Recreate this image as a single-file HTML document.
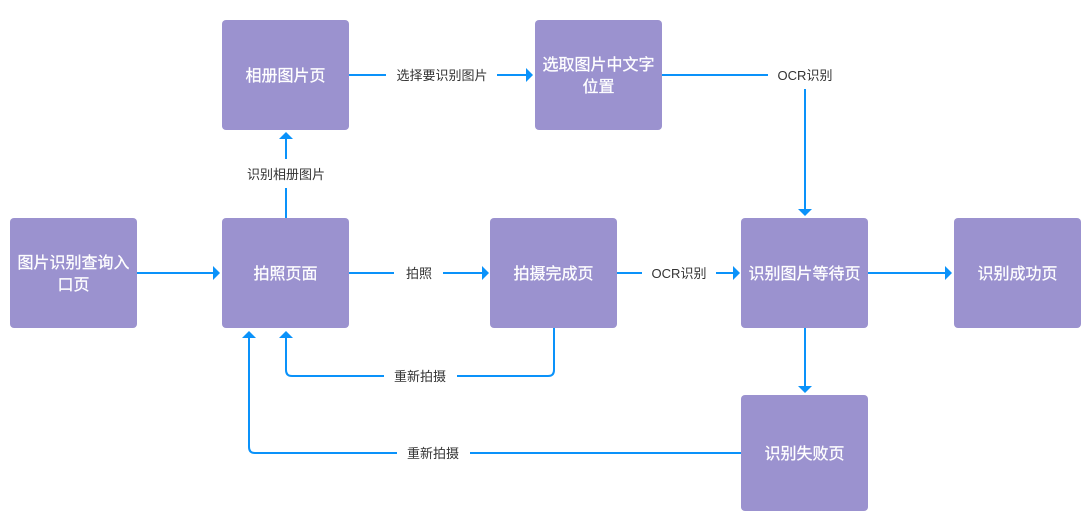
<!DOCTYPE html>
<html lang="zh">
<head>
<meta charset="utf-8">
<title>图片识别流程</title>
<style>
html,body{margin:0;padding:0;background:#fff;}
body{width:1090px;height:524px;overflow:hidden;position:relative;font-family:"Liberation Sans","Noto Sans CJK SC",sans-serif;}
svg{position:absolute;left:0;top:0;}
.n{position:absolute;width:127px;background:#9b92cf;border-radius:4px;color:#fff;font-size:16px;line-height:22px;text-align:center;display:flex;align-items:center;justify-content:center;box-sizing:border-box;padding:4px 6px 0;-webkit-text-stroke:0.25px #fff;}
.l{position:absolute;font-size:13px;line-height:16px;color:#333;white-space:nowrap;transform:translateX(-50%);}
</style>
</head>
<body>
<svg width="1090" height="524" viewBox="0 0 1090 524">
<g fill="none" stroke="#0a92fa" stroke-width="2">
<path d="M137 273H214"/>
<path d="M349 273H394"/>
<path d="M443 273H482"/>
<path d="M617 273H642"/>
<path d="M716 273H733"/>
<path d="M868 273H946"/>
<path d="M286 218V188"/>
<path d="M286 159V138"/>
<path d="M349 75H386"/>
<path d="M497 75H527"/>
<path d="M662 75H768"/>
<path d="M805 89V212"/>
<path d="M805 328V388"/>
<path d="M554 328V370Q554 376 548 376H457"/>
<path d="M384 376H292Q286 376 286 370V336"/>
<path d="M741 453H470"/>
<path d="M397 453H255Q249 453 249 447V336"/>
</g>
<g fill="#0a92fa">
<path d="M213 266L220 273L213 280Z"/>
<path d="M482 266L489 273L482 280Z"/>
<path d="M733 266L740 273L733 280Z"/>
<path d="M945 266L952 273L945 280Z"/>
<path d="M526 68L533 75L526 82Z"/>
<path d="M279 139L286 132L293 139Z"/>
<path d="M279 338L286 331L293 338Z"/>
<path d="M242 338L249 331L256 338Z"/>
<path d="M798 209L805 216L812 209Z"/>
<path d="M798 386L805 393L812 386Z"/>
</g>
</svg>

<div class="n" style="left:10px;top:218px;height:110px;">图片识别查询入口页</div>
<div class="n" style="left:222px;top:218px;height:110px;">拍照页面</div>
<div class="n" style="left:222px;top:20px;height:110px;">相册图片页</div>
<div class="n" style="left:535px;top:20px;height:110px;">选取图片中文字位置</div>
<div class="n" style="left:490px;top:218px;height:110px;">拍摄完成页</div>
<div class="n" style="left:741px;top:218px;height:110px;">识别图片等待页</div>
<div class="n" style="left:954px;top:218px;height:110px;">识别成功页</div>
<div class="n" style="left:741px;top:395px;height:116px;">识别失败页</div>

<div class="l" style="left:286px;top:167px;">识别相册图片</div>
<div class="l" style="left:442px;top:68px;">选择要识别图片</div>
<div class="l" style="left:805px;top:68px;">OCR识别</div>
<div class="l" style="left:419px;top:266px;">拍照</div>
<div class="l" style="left:679px;top:266px;">OCR识别</div>
<div class="l" style="left:420px;top:369px;">重新拍摄</div>
<div class="l" style="left:433px;top:446px;">重新拍摄</div>
</body>
</html>
